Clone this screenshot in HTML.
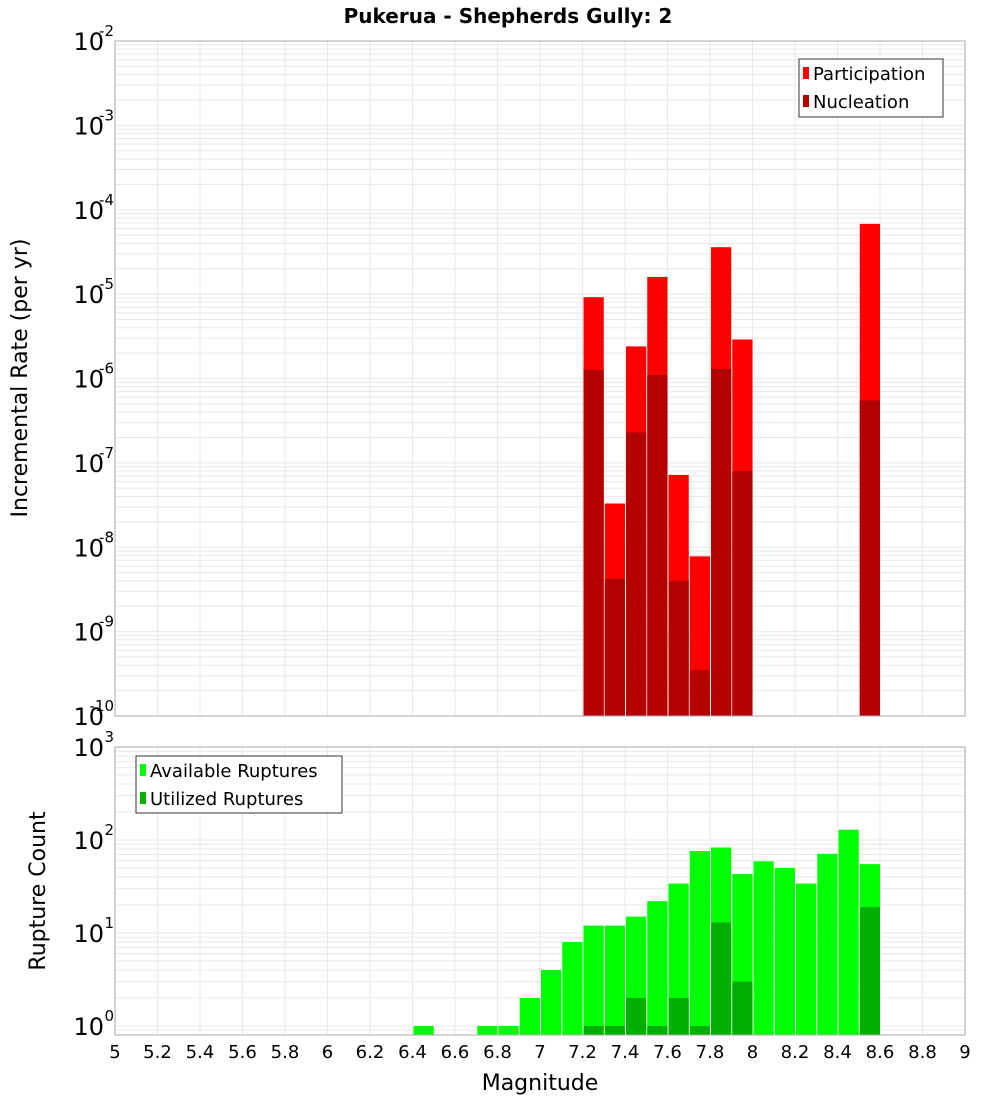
<!DOCTYPE html>
<html><head><meta charset="utf-8"><style>
body{margin:0;background:#fff;width:1000px;height:1100px;overflow:hidden}
svg{font-family:"DejaVu Sans","Liberation Sans",sans-serif}
</style></head><body>
<svg id="c" width="1000" height="1100" xmlns="http://www.w3.org/2000/svg">
<text x="508" y="23" text-anchor="middle" font-size="20" font-weight="bold">Pukerua - Shepherds Gully: 2</text>
<g id="top"></g>
<g id="bot"></g>
<text transform="translate(27,378) rotate(-90)" text-anchor="middle" font-size="22">Incremental Rate (per yr)</text>
<text transform="translate(45,891) rotate(-90)" text-anchor="middle" font-size="22">Rupture Count</text>
<text x="540" y="1090" text-anchor="middle" font-size="22">Magnitude</text>
<g>
<rect x="799" y="59" width="144" height="58" fill="#fff" stroke="#333"/>
<rect x="803" y="67" width="6" height="12" fill="#ff0000"/>
<text x="813" y="80" font-size="18">Participation</text>
<rect x="803" y="95" width="6" height="12" fill="#b30000"/>
<text x="813" y="108" font-size="18">Nucleation</text>
</g>
<g>
<rect x="136" y="756" width="206" height="57" fill="#fff" stroke="#333"/>
<rect x="140" y="764" width="6" height="12" fill="#00ff00"/>
<text x="150" y="777" font-size="18">Available Ruptures</text>
<rect x="140" y="792" width="6" height="12" fill="#00b000"/>
<text x="150" y="805" font-size="18">Utilized Ruptures</text>
</g>
</svg>
<script>
const partMags=[7.25,7.35,7.45,7.55,7.65,7.75,7.85,7.95,8.55];
const partVals=[9.2e-6,3.3e-8,2.4e-6,1.6e-5,7.2e-8,7.8e-9,3.6e-5,2.9e-6,6.8e-5];
const nuclVals=[1.27e-6,4.2e-9,2.3e-7,1.1e-6,4.0e-9,3.5e-10,1.3e-6,8.0e-8,5.5e-7];
const availMags=[6.45,6.75,6.85,6.95,7.05,7.15,7.25,7.35,7.45,7.55,7.65,7.75,7.85,7.95,8.05,8.15,8.25,8.35,8.45,8.55];
const availVals=[1,1,1,2,4,8,12,12,15,22,34,76,83,43,59,50,34,71,129,55];
const utilMags=[7.25,7.35,7.45,7.55,7.65,7.75,7.85,7.95,8.55];
const utilVals=[1,1,2,1,2,1,13,3,19];
const xTicks=[5,5.2,5.4,5.6,5.8,6,6.2,6.4,6.6,6.8,7,7.2,7.4,7.6,7.8,8,8.2,8.4,8.6,8.8,9];
const topExps=[-10,-9,-8,-7,-6,-5,-4,-3,-2];
const botExps=[0,1,2,3];
const NS="http://www.w3.org/2000/svg";
const X0=115,X1=965;
const xs=m=>X0+(m-5)/4*(X1-X0);
function mk(p,t,a){const e=document.createElementNS(NS,t);for(const k in a)e.setAttribute(k,a[k]);p.appendChild(e);return e;}
function panel(g,yT,yB,lmin,lmax,exps,series,nm){
  const ys=v=>yB-(Math.log10(v)-lmin)/(lmax-lmin)*(yB-yT);
  // grid
  for(const t of xTicks){const l=mk(g,'line',{x1:xs(t),x2:xs(t),y1:yT,y2:yB,stroke:'#e8e8e8'});
  
  }
  for(let e=Math.floor(lmin);e<lmax;e++)for(let k=1;k<10;k++){const v=k*Math.pow(10,e);const y=ys(v);if(y<yT||y>yB)continue;
    const l=mk(g,'line',{x1:X0,x2:X1,y1:y,y2:y,stroke:'#e8e8e8'});
    
    }
  // bars
  for(const s of series){s.m.forEach((m,i)=>{const y=ys(s.v[i]);const x=xs(m-0.05);
    const r=mk(g,'rect',{x:x+1,y:y,width:xs(m+0.05)-x-1,height:yB-y,fill:s.c});
    
    });}
  mk(g,'rect',{x:X0,y:yT,width:X1-X0,height:yB-yT,fill:'none',stroke:'#aaa'});
  // y labels
  for(const e of exps){const y=ys(Math.pow(10,e));
    const t=mk(g,'text',{x:104,y:y+9,'text-anchor':'end','font-size':24});t.textContent='10';
    
    
    const s=mk(g,'text',{x:114,y:y-5,'text-anchor':'end','font-size':15});s.textContent=String(e);
    
    }
}
panel(document.getElementById('top'),41,716,-10,-2,topExps,[{m:partMags,v:partVals,c:'#ff0000',n:'participation'},{m:partMags,v:nuclVals,c:'#b30000',n:'nucleation'}],'top');
panel(document.getElementById('bot'),747,1035,Math.log10(0.8),3,botExps,[{m:availMags,v:availVals,c:'#00ff00',n:'available'},{m:utilMags,v:utilVals,c:'#00b000',n:'utilized'}],'bottom');
const c=document.getElementById('c');
for(const t of xTicks){const e=mk(c,'text',{x:xs(t),y:1058,'text-anchor':'middle','font-size':18});e.textContent=String(t);
  
  }
</script>
</body></html>
